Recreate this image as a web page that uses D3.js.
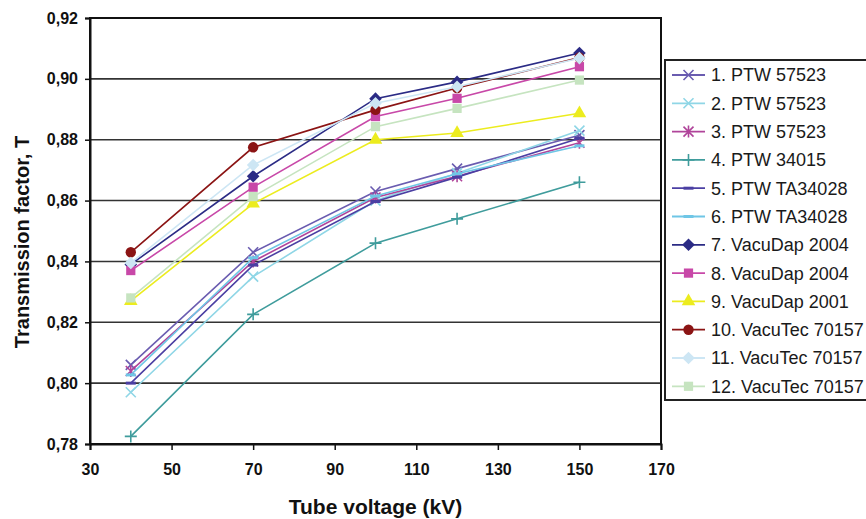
<!DOCTYPE html>
<html><head><meta charset="utf-8">
<script src="https://cdn.jsdelivr.net/npm/d3@7"></script>
<style>
html,body{margin:0;padding:0;background:#fff;}
svg{display:block;font-family:"Liberation Sans",Arial,sans-serif;}
</style></head>
<body><svg id="c" width="866" height="519"></svg>
<script>
const voltages = [40, 70, 100, 120, 150];
const seriesNames = ["1. PTW 57523","2. PTW 57523","3. PTW 57523","4. PTW 34015","5. PTW TA34028","6. PTW TA34028","7. VacuDap 2004","8. VacuDap 2004","9. VacuDap 2001","10. VacuTec 70157","11. VacuTec 70157","12. VacuTec 70157"];
const s1  = [0.806, 0.843, 0.863, 0.8705, 0.8815];
const s2  = [0.797, 0.835, 0.860, 0.869, 0.883];
const s3  = [0.804, 0.840, 0.861, 0.868, 0.879];
const s4  = [0.7825, 0.8226, 0.846, 0.854, 0.866];
const s5  = [0.800, 0.8388, 0.8597, 0.8677, 0.8805];
const s6  = [0.8027, 0.8412, 0.8615, 0.8688, 0.878];
const s7  = [0.839, 0.868, 0.8935, 0.899, 0.9085];
const s8  = [0.837, 0.8644, 0.8876, 0.8936, 0.904];
const s9  = [0.827, 0.859, 0.880, 0.8822, 0.8887];
const s10 = [0.843, 0.8775, 0.8898, 0.897, 0.907];
const s11 = [0.8395, 0.8717, 0.892, 0.8974, 0.9068];
const s12 = [0.828, 0.8613, 0.8843, 0.8903, 0.8996];
const seriesValues = [s1,s2,s3,s4,s5,s6,s7,s8,s9,s10,s11,s12];
const xTicks = [30,50,70,90,110,130,150,170];
const yTicks = [0.78,0.80,0.82,0.84,0.86,0.88,0.90,0.92];

const colors = ["#6a5cb0","#8fd6e6","#b0449a","#3f9c9c","#4b3fa3","#6fc6e6","#2b2b85","#c848a8","#ecec1e","#8b1414","#cde6f4","#c6e4c0"];
const markers = ["x","x","star","plus","dash","dash","diamond","square","triangle","circle","diamond","square"];

const svg = d3.select("#c");
const L = 90, R = 661, T = 18, B = 444;
const x = d3.scaleLinear().domain([30,170]).range([L,R]);
const y = d3.scaleLinear().domain([0.78,0.92]).range([B,T]);

// gridlines
svg.append("g").selectAll("line").data(yTicks).join("line")
  .attr("x1",L).attr("x2",R).attr("y1",d=>y(d)).attr("y2",d=>y(d))
  .attr("stroke","#333").attr("stroke-width",1.6);
// plot border
svg.append("rect").attr("x",L).attr("y",T).attr("width",R-L).attr("height",B-T)
  .attr("fill","none").attr("stroke","#111").attr("stroke-width",2);

// axes
const fmt = d => d3.format(".2f")(d).replace(".",",");
const ya = svg.append("g").attr("transform",`translate(${L},0)`)
  .call(d3.axisLeft(y).tickValues(yTicks).tickFormat(fmt).tickSize(5).tickPadding(7));
const xa = svg.append("g").attr("transform",`translate(0,${B})`)
  .call(d3.axisBottom(x).tickValues(xTicks).tickFormat(d3.format("d")).tickSize(6).tickPadding(14));
[ya,xa].forEach(a=>{
  a.select(".domain").attr("stroke","#111").attr("stroke-width",2);
  a.selectAll(".tick line").attr("stroke","#111").attr("stroke-width",1.5);
  a.selectAll("text").attr("font-size",16).attr("font-weight","bold").attr("fill","#111")
    .attr("font-family","'Liberation Sans',Arial,sans-serif");
});

// axis titles
svg.append("text").attr("transform","translate(29,242) rotate(-90)").attr("text-anchor","middle")
  .attr("font-size",20).attr("font-weight","bold").attr("fill","#111").text("Transmission factor, T");
svg.append("text").attr("x",(L+R)/2).attr("y",514).attr("text-anchor","middle")
  .attr("font-size",21).attr("font-weight","bold").attr("fill","#111").text("Tube voltage (kV)");

function drawMarker(g, type, color, cx, cy){
  const s = 5;
  if(type==="x"){
    g.append("path").attr("d",`M${cx-s},${cy-s}L${cx+s},${cy+s}M${cx-s},${cy+s}L${cx+s},${cy-s}`)
      .attr("stroke",color).attr("stroke-width",1.6).attr("fill","none");
  } else if(type==="star"){
    g.append("path").attr("d",`M${cx-s},${cy-s}L${cx+s},${cy+s}M${cx-s},${cy+s}L${cx+s},${cy-s}M${cx},${cy-s-1}L${cx},${cy+s+1}`)
      .attr("stroke",color).attr("stroke-width",1.6).attr("fill","none");
  } else if(type==="plus"){
    g.append("path").attr("d",`M${cx-s-1},${cy}L${cx+s+1},${cy}M${cx},${cy-s-1}L${cx},${cy+s+1}`)
      .attr("stroke",color).attr("stroke-width",1.6).attr("fill","none");
  } else if(type==="dash"){
    g.append("path").attr("d",`M${cx-5},${cy}L${cx+5},${cy}`)
      .attr("stroke",color).attr("stroke-width",3).attr("fill","none");
  } else if(type==="diamond"){
    const h = 6.3;
    g.append("path").attr("d",`M${cx},${cy-h}L${cx+h},${cy}L${cx},${cy+h}L${cx-h},${cy}Z`).attr("fill",color);
  } else {
    const sym = {square:d3.symbolSquare, triangle:d3.symbolTriangle, circle:d3.symbolCircle}[type];
    const size = {square:85, triangle:80, circle:85}[type];
    g.append("path").attr("d",d3.symbol().type(sym).size(size)())
      .attr("transform",`translate(${cx},${cy})`).attr("fill",color);
  }
}

const line = d3.line().x((d,i)=>x(voltages[i])).y(d=>y(d));
const plotG = svg.append("g");
seriesValues.forEach((vals,k)=>{
  const g = plotG.append("g");
  g.append("path").datum(vals).attr("d",line).attr("fill","none")
    .attr("stroke",colors[k]).attr("stroke-width",1.6);
  vals.forEach((v,i)=>drawMarker(g, markers[k], colors[k], x(voltages[i]), y(v)));
});

// legend
const lg = svg.append("g");
lg.append("rect").attr("x",665).attr("y",60).attr("width",220).attr("height",340)
  .attr("fill","#fff").attr("stroke","#222").attr("stroke-width",2);
seriesNames.forEach((n,k)=>{
  const cy = 75 + k*28.3;
  lg.append("line").attr("x1",672).attr("x2",705).attr("y1",cy).attr("y2",cy)
    .attr("stroke",colors[k]).attr("stroke-width",1.8);
  drawMarker(lg, markers[k], colors[k], 688.5, cy);
  lg.append("text").attr("x",711).attr("y",cy).attr("dy","0.36em")
    .attr("font-size",18).attr("fill","#1a1a1a").text(n);
});
</script></body></html>
